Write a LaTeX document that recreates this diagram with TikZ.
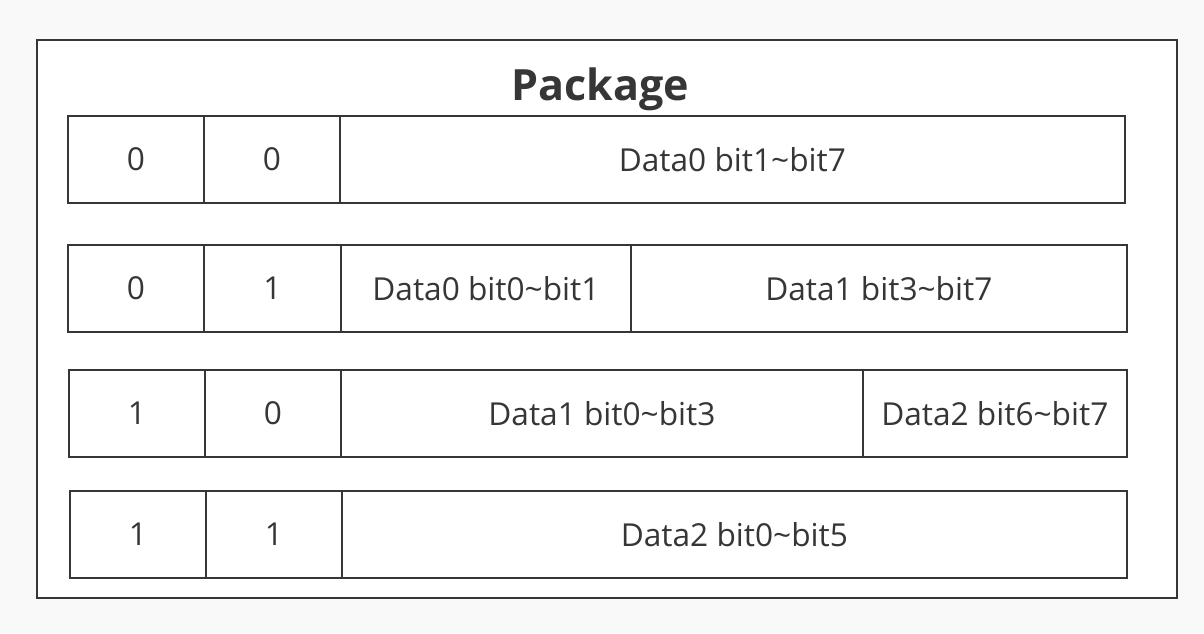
\documentclass[tikz,border=0pt]{standalone}
\usepackage{fontspec}
\setmainfont{Open Sans}
\definecolor{pagegray}{RGB}{249,249,249}
\definecolor{framegray}{RGB}{54,54,54}
\usetikzlibrary{positioning}

\tikzset{
  field/.style={draw=framegray, fill=white, line width=1.25pt, inner sep=0pt, outer sep=0pt,
    minimum height=1.74cm, text=framegray, font=\fontsize{18}{21}\selectfont},
  flag/.style={field, minimum width=2.72cm},
}

\begin{document}
\begin{tikzpicture}[x=0.02cm, y=-0.02cm]
    % page and outer frame
    \fill[pagegray] (0,0) rectangle (1204,633);
    \useasboundingbox (0,0) rectangle (1204,633);
    \draw[framegray, fill=white, line width=1.3pt] (37,40) rectangle (1177,598);
    \node[text=framegray, font=\fontsize{24.5}{28}\selectfont\bfseries] (title) at (600,89) {Package};

    % row 1
    \node[flag, anchor=north west] (a1) at (68,116) {0};
    \node[flag, right=0pt of a1] (b1) {0};
    \node[field, minimum width=15.7cm, right=0pt of b1] (c1) {Data0 bit1\textasciitilde bit7};

    % row 2
    \node[flag, anchor=north west] (a2) at (68,245) {0};
    \node[flag, minimum width=2.74cm, right=0pt of a2] (b2) {1};
    \node[field, minimum width=5.8cm, right=0pt of b2] (c2) {Data0 bit0\textasciitilde bit1};
    \node[field, minimum width=9.92cm, right=0pt of c2] (d2) {Data1 bit3\textasciitilde bit7};

    % row 3
    \node[flag, anchor=north west] (a3) at (69,370) {1};
    \node[flag, right=0pt of a3] (b3) {0};
    \node[field, minimum width=10.44cm, right=0pt of b3] (c3) {Data1 bit0\textasciitilde bit3};
    \node[field, minimum width=5.28cm, right=0pt of c3] (d3) {Data2 bit6\textasciitilde bit7};

    % row 4
    \node[flag, anchor=north west] (a4) at (70,491) {1};
    \node[flag, right=0pt of a4] (b4) {1};
    \node[field, minimum width=15.7cm, right=0pt of b4] (c4) {Data2 bit0\textasciitilde bit5};
  \end{tikzpicture}
\end{document}
